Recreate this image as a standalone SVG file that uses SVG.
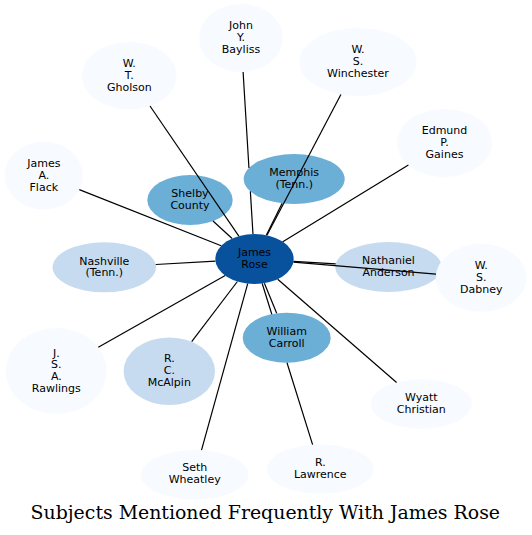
<svg xmlns="http://www.w3.org/2000/svg" width="532" height="535" viewBox="0 0 532 535">
<style>
.n text{font-family:"DejaVu Sans","Liberation Sans",sans-serif;font-size:11px;fill:#000;text-anchor:middle}
.c1{fill:#08519c}.c2{fill:#6baed6}.c3{fill:#c6dbef}.c4{fill:#f7fbff}
.e path{stroke:#000;stroke-width:1.2;fill:none}
.title{font-family:"DejaVu Serif","Liberation Serif",serif;font-size:18.9px;text-anchor:middle;fill:#000}
</style>
<rect width="532" height="535" fill="#fff"/>
<g id="nodes">
<g id="n-bayliss" class="n"><ellipse class="c4" cx="241" cy="38" rx="42" ry="34"/><text x="241" y="29.4">John<tspan x="241" dy="11.8">Y.</tspan><tspan x="241" dy="11.8">Bayliss</tspan></text></g>
<g id="n-gholson" class="n"><ellipse class="c4" cx="129.3" cy="75.7" rx="47.3" ry="33.7"/><text x="129.3" y="67.1">W.<tspan x="129.3" dy="11.8">T.</tspan><tspan x="129.3" dy="11.8">Gholson</tspan></text></g>
<g id="n-winchester" class="n"><ellipse class="c4" cx="358" cy="62" rx="58.7" ry="34"/><text x="358" y="53.4">W.<tspan x="358" dy="11.8">S.</tspan><tspan x="358" dy="11.8">Winchester</tspan></text></g>
<g id="n-gaines" class="n"><ellipse class="c4" cx="444.5" cy="143" rx="47.5" ry="34"/><text x="444.5" y="134.4">Edmund<tspan x="444.5" dy="11.8">P.</tspan><tspan x="444.5" dy="11.8">Gaines</tspan></text></g>
<g id="n-flack" class="n"><ellipse class="c4" cx="43.8" cy="175.5" rx="39" ry="34"/><text x="43.8" y="166.9">James<tspan x="43.8" dy="11.8">A.</tspan><tspan x="43.8" dy="11.8">Flack</tspan></text></g>
<g id="n-shelby" class="n"><ellipse class="c2" cx="190" cy="200" rx="42.7" ry="25"/><text x="190" y="197.3">Shelby<tspan x="190" dy="11.8">County</tspan></text></g>
<g id="n-memphis" class="n"><ellipse class="c2" cx="294.2" cy="179" rx="50.5" ry="25"/><text x="294.2" y="176.3">Memphis<tspan x="294.2" dy="11.8">(Tenn.)</tspan></text></g>
<g id="n-nashville" class="n"><ellipse class="c3" cx="104.3" cy="267.3" rx="51.7" ry="25"/><text x="104.3" y="264.6">Nashville<tspan x="104.3" dy="11.8">(Tenn.)</tspan></text></g>
<g id="n-anderson" class="n"><ellipse class="c3" cx="388.5" cy="267" rx="53.2" ry="25"/><text x="388.5" y="264.3">Nathaniel<tspan x="388.5" dy="11.8">Anderson</tspan></text></g>
<g id="n-dabney" class="n"><ellipse class="c4" cx="481.2" cy="277.8" rx="45.5" ry="34"/><text x="481.2" y="269.2">W.<tspan x="481.2" dy="11.8">S.</tspan><tspan x="481.2" dy="11.8">Dabney</tspan></text></g>
<g id="n-rose" class="n"><ellipse class="c1" cx="254.5" cy="259" rx="39.2" ry="25"/><text x="254.5" y="256.3">James<tspan x="254.5" dy="11.8">Rose</tspan></text></g>
<g id="n-carroll" class="n"><ellipse class="c2" cx="286.7" cy="337.7" rx="44" ry="25"/><text x="286.7" y="335">William<tspan x="286.7" dy="11.8">Carroll</tspan></text></g>
<g id="n-mcalpin" class="n"><ellipse class="c3" cx="169.3" cy="371.2" rx="45.7" ry="33.8"/><text x="169.3" y="362.4">R.<tspan x="169.3" dy="11.8">C.</tspan><tspan x="169.3" dy="11.8">McAlpin</tspan></text></g>
<g id="n-rawlings" class="n"><ellipse class="c4" cx="56.3" cy="371" rx="50.3" ry="43"/><text x="56.3" y="356.6">J.<tspan x="56.3" dy="11.8">S.</tspan><tspan x="56.3" dy="11.8">A.</tspan><tspan x="56.3" dy="11.8">Rawlings</tspan></text></g>
<g id="n-christian" class="n"><ellipse class="c4" cx="421.3" cy="404" rx="50.3" ry="24.7"/><text x="421.3" y="401.2">Wyatt<tspan x="421.3" dy="11.8">Christian</tspan></text></g>
<g id="n-wheatley" class="n"><ellipse class="c4" cx="194.7" cy="474.7" rx="53.7" ry="24.7"/><text x="194.7" y="471">Seth<tspan x="194.7" dy="11.8">Wheatley</tspan></text></g>
<g id="n-lawrence" class="n"><ellipse class="c4" cx="320.3" cy="469" rx="53.3" ry="24.7"/><text x="320.3" y="466.3">R.<tspan x="320.3" dy="11.8">Lawrence</tspan></text></g>
</g>
<g id="edges" class="e">
<path id="e-gholson" d="M238.85,236.1 L150,106"/>
<path id="e-bayliss" d="M252.97,234 L250.36,191.4 M248.95,168 L243.1,72"/>
<path id="e-winchester" d="M266.95,235.3 L340.9,94.5"/>
<path id="e-memphis" d="M266.3,235.2 L282.15,203.3"/>
<path id="e-shelby" d="M232.1,238.5 L213,221.06"/>
<path id="e-flack" d="M221.2,245.8 L79.3,189.6"/>
<path id="e-gaines" d="M282.8,241.7 L408.4,165.1"/>
<path id="e-nashville" d="M215.45,261.2 L155.7,264.5"/>
<path id="e-anderson" d="M293.5,261.3 L335.7,263.85"/>
<path id="e-dabney" d="M293.4,262.2 L436,274.05"/>
<path id="e-rawlings" d="M225.2,275.6 L98.3,347.3"/>
<path id="e-mcalpin" d="M237.4,281.5 L191.7,341.7"/>
<path id="e-wheatley" d="M247.7,283.6 L201.5,450.2"/>
<path id="e-carroll" d="M264.4,283.2 L276.7,313.35"/>
<path id="e-lawrence" d="M262.2,283.5 L271.8,314.2 M287,362.7 L312.6,444.6"/>
<path id="e-christian" d="M277.7,279.2 L396.6,382.5"/>
</g>
<text class="title" x="265.3" y="519.3">Subjects Mentioned Frequently With James Rose</text>
</svg>
